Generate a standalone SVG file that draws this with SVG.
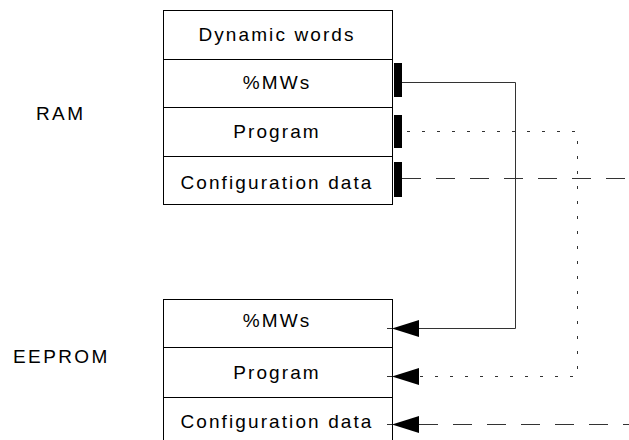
<svg xmlns="http://www.w3.org/2000/svg" width="629" height="440" viewBox="0 0 629 440">
<style>
.box{fill:#fff;stroke:#000;stroke-width:1}
.t{font-family:"Liberation Sans",Arial,sans-serif;font-size:19px;letter-spacing:2.1px;fill:#000;text-anchor:middle}
.lbl{font-family:"Liberation Sans",Arial,sans-serif;font-size:19px;letter-spacing:2.4px;fill:#000}
.bar{fill:#000}
.c{fill:none;stroke:#333;stroke-width:1}
.dot{stroke-dasharray:3 12}
.dash{stroke-dasharray:19 15}
</style>
<text class="lbl" x="36" y="120">RAM</text>
<text class="lbl" x="13" y="363">EEPROM</text>
<g id="ram">
<rect class="box" x="163.5" y="10.5" width="229" height="194"/>
<line class="box" x1="163.5" y1="59.5" x2="392.5" y2="59.5"/>
<line class="box" x1="163.5" y1="107.5" x2="392.5" y2="107.5"/>
<line class="box" x1="163.5" y1="156.5" x2="392.5" y2="156.5"/>
<text class="t" x="277" y="41">Dynamic words</text>
<text class="t" x="277" y="89">%MWs</text>
<text class="t" x="277" y="138">Program</text>
<text class="t" x="277" y="189">Configuration data</text>
<rect class="bar" x="394" y="63" width="8" height="34"/>
<rect class="bar" x="394" y="115" width="8" height="33"/>
<rect class="bar" x="394" y="162" width="8" height="35"/>
</g>
<g id="eeprom">
<rect class="box" x="163.5" y="299.5" width="229" height="150"/>
<line class="box" x1="163.5" y1="347.5" x2="392.5" y2="347.5"/>
<line class="box" x1="163.5" y1="397.5" x2="392.5" y2="397.5"/>
<text class="t" x="277" y="327">%MWs</text>
<text class="t" x="277" y="379">Program</text>
<text class="t" x="277" y="428">Configuration data</text>
</g>
<g id="connectors">
<path class="c" d="M402,82.5 H515.5 V328.5 H419"/>
<path class="c dot" d="M407,131.5 H577.5 V376.5 H419"/>
<path class="c dash" d="M402,178.5 H629"/>
<path class="c dash" d="M419,424.5 H629"/>
<line class="c" x1="387" y1="328.5" x2="392" y2="328.5"/>
<line class="c" x1="387" y1="376.5" x2="392" y2="376.5"/>
<line class="c" x1="387" y1="424.5" x2="392" y2="424.5"/>
<path d="M419,320 L392,328.5 L419,337 Z" fill="#000"/>
<path d="M419,368 L392,376.5 L419,385 Z" fill="#000"/>
<path d="M419,416 L392,424.5 L419,433 Z" fill="#000"/>
</g>
</svg>
